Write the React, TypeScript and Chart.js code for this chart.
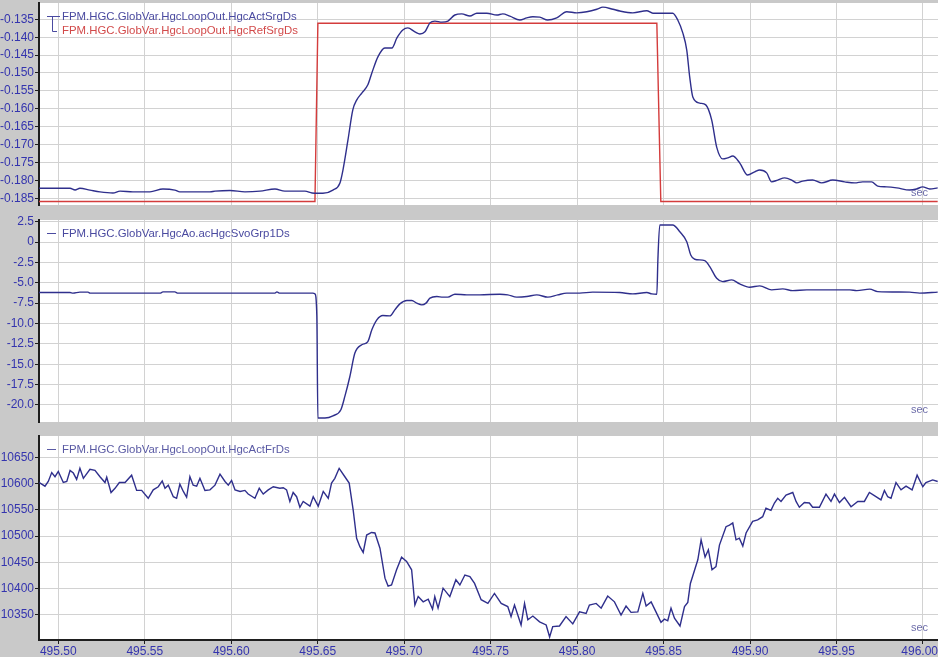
import React, { useEffect, useRef } from "react";
import { Chart, registerables } from "chart.js";

Chart.register(...registerables);

// ---------- shared time axis ----------
const X_MIN = 495.48884;
const X_MAX = 496.00868;
const X_TICKS = [495.5, 495.55, 495.6, 495.65, 495.7, 495.75, 495.8, 495.85, 495.9, 495.95, 496.0];
const X_TICK_LABELS = ["495.50", "495.55", "495.60", "495.65", "495.70", "495.75", "495.80", "495.85", "495.90", "495.95", "496.00"];

// ---------- panel 1 : HgcActSrgDs / HgcRefSrgDs ----------
const P1_Y_MIN = -0.18687;
const P1_Y_MAX = -0.13045;
const P1_TICKS = [-0.185, -0.18, -0.175, -0.17, -0.165, -0.16, -0.155, -0.15, -0.145, -0.14, -0.135];
const P1_TICK_LABELS = ["-0.185", "-0.180", "-0.175", "-0.170", "-0.165", "-0.160", "-0.155", "-0.150", "-0.145", "-0.140", "-0.135"];

const ACT_SRG_T = [
  495.4888, 495.5068, 495.5097, 495.5125, 495.5183, 495.5241, 495.5316, 495.5357, 495.5432, 495.553,
  495.5605, 495.5674, 495.5703, 495.5877, 495.5906, 495.5993, 495.6079, 495.6166, 495.6253, 495.631,
  495.6397, 495.6426, 495.6467, 495.6501, 495.653, 495.6588, 495.6628, 495.6646, 495.6675, 495.6703,
  495.6726, 495.6755, 495.679, 495.6813, 495.6848, 495.6888, 495.6929, 495.6958, 495.6992, 495.7021,
  495.7062, 495.7091, 495.712, 495.7149, 495.7178, 495.7218, 495.7253, 495.7293, 495.7333, 495.738,
  495.742, 495.7478, 495.7536, 495.757, 495.7611, 495.7669, 495.7709, 495.7744, 495.7784, 495.783,
  495.7882, 495.794, 495.7998, 495.8056, 495.8114, 495.8149, 495.8207, 495.8247, 495.8322, 495.8403,
  495.8438, 495.8553, 495.8582, 495.8611, 495.8634, 495.8651, 495.8669, 495.8709, 495.8744, 495.8778,
  495.8807, 495.8842, 495.8871, 495.89, 495.894, 495.8986, 495.9027, 495.9056, 495.9096, 495.9125,
  495.916, 495.92, 495.9241, 495.927, 495.9304, 495.9362, 495.9414, 495.9478, 495.9547, 495.9605,
  495.9651, 495.9703, 495.9738, 495.979, 495.9848, 495.9923, 495.9963, 495.9998, 496.0039, 496.0085,
];
const ACT_SRG_V = [
  -0.1822, -0.1822, -0.1827, -0.1822, -0.1827, -0.1832, -0.1835, -0.183, -0.1832, -0.1832,
  -0.1824, -0.1827, -0.1832, -0.1832, -0.183, -0.1828, -0.1832, -0.183, -0.1824, -0.183,
  -0.183, -0.183, -0.1835, -0.1836, -0.1836, -0.1827, -0.1808, -0.1771, -0.1687, -0.1603,
  -0.1575, -0.1556, -0.1533, -0.15, -0.1455, -0.143, -0.143, -0.1402, -0.138, -0.1374,
  -0.1385, -0.1391, -0.1385, -0.136, -0.1355, -0.1358, -0.1355, -0.1338, -0.1335, -0.1341,
  -0.1333, -0.1333, -0.1338, -0.1335, -0.1341, -0.1352, -0.1346, -0.1343, -0.1344, -0.1352,
  -0.1346, -0.1329, -0.1332, -0.1329, -0.1322, -0.1316, -0.1322, -0.1327, -0.1332, -0.1326,
  -0.1333, -0.1333, -0.1352, -0.1388, -0.1436, -0.1511, -0.1567, -0.1584, -0.1589, -0.1631,
  -0.1707, -0.174, -0.1737, -0.1732, -0.1751, -0.1785, -0.1776, -0.1771, -0.1779, -0.1804,
  -0.1799, -0.1793, -0.1799, -0.1807, -0.1802, -0.1799, -0.1807, -0.1799, -0.1804, -0.1807,
  -0.1804, -0.1804, -0.1816, -0.1818, -0.1821, -0.1827, -0.1824, -0.1818, -0.1824, -0.1821,
];

const REF_SRG_T = [495.4888, 495.6484, 495.6501, 495.8461, 495.8484, 496.0085];
const REF_SRG_V = [-0.1859, -0.1859, -0.1361, -0.1361, -0.1859, -0.1859];

// ---------- panel 2 : acHgcSvoGrp1Ds ----------
const P2_Y_MIN = -22.09;
const P2_Y_MAX = 2.71;
const P2_TICKS = [-20, -17.5, -15, -12.5, -10, -7.5, -5, -2.5, 0, 2.5];
const P2_TICK_LABELS = ["-20.0", "-17.5", "-15.0", "-12.5", "-10.0", "-7.5", "-5.0", "-2.5", "0", "2.5"];

const SVO_T = [
  495.4888, 495.5068, 495.5085, 495.5125, 495.5172, 495.5183, 495.5588, 495.5605, 495.5674, 495.5692,
  495.6253, 495.6264, 495.6281, 495.6472, 495.6484, 495.6495, 495.6501, 495.6542, 495.6588, 495.6634,
  495.6657, 495.6686, 495.6715, 495.6755, 495.679, 495.6813, 495.6842, 495.6877, 495.6917, 495.6946,
  495.6975, 495.7016, 495.7044, 495.7073, 495.7102, 495.7126, 495.7149, 495.7189, 495.7224, 495.7253,
  495.7293, 495.7362, 495.7437, 495.7553, 495.7599, 495.7651, 495.7709, 495.7767, 495.783, 495.7888,
  495.794, 495.8015, 495.809, 495.8247, 495.8322, 495.8403, 495.8432, 495.8461, 495.8467, 495.8478,
  495.8553, 495.8594, 495.8634, 495.8657, 495.868, 495.8738, 495.8767, 495.8807, 495.8842, 495.8894,
  495.894, 495.8998, 495.9056, 495.9125, 495.9189, 495.9247, 495.9328, 495.9577, 495.9617, 495.9692,
  495.9738, 495.9923, 495.9981, 496.0085,
];
const SVO_V = [
  -6.2, -6.2, -6.27, -6.15, -6.15, -6.27, -6.27, -6.12, -6.12, -6.27,
  -6.27, -6.12, -6.27, -6.27, -6.36, -9.14, -21.59, -21.59, -21.33, -20.58,
  -18.95, -16.5, -13.63, -12.61, -12.21, -10.77, -9.55, -9.02, -9.06, -8.32,
  -7.59, -7.18, -7.18, -7.5, -7.71, -7.5, -6.89, -6.69, -6.76, -6.76,
  -6.4, -6.48, -6.48, -6.4, -6.48, -6.76, -6.69, -6.48, -6.76, -6.48,
  -6.27, -6.27, -6.15, -6.2, -6.36, -6.2, -6.36, -6.4, -2.19, 2.1,
  2.1, 1.27, 0.05, -1.58, -2.11, -2.28, -3.01, -4.44, -4.85, -4.64,
  -5.13, -5.54, -5.38, -5.87, -5.75, -5.96, -5.87, -5.87, -5.96, -5.78,
  -6.08, -6.15, -6.27, -6.15,
];

// ---------- panel 3 : HgcActFrDs ----------
const P3_Y_MIN = 10302.4;
const P3_Y_MAX = 10690.5;
const P3_TICKS = [10350, 10400, 10450, 10500, 10550, 10600, 10650];
const P3_TICK_LABELS = ["10350", "10400", "10450", "10500", "10550", "10600", "10650"];

const FR_T = [
  495.489, 495.4923, 495.4942, 495.4962, 495.4981, 495.5, 495.5029, 495.5049, 495.5068, 495.5087,
  495.5106, 495.5125, 495.5145, 495.5183, 495.5212, 495.5241, 495.527, 495.528, 495.5305, 495.5328,
  495.5353, 495.5386, 495.5424, 495.5453, 495.5482, 495.552, 495.5549, 495.5578, 495.5601, 495.5617,
  495.5636, 495.5665, 495.5684, 495.5703, 495.5723, 495.5742, 495.5761, 495.578, 495.58, 495.5819,
  495.5848, 495.5877, 495.5906, 495.5935, 495.5964, 495.5983, 495.6002, 495.6022, 495.6051, 495.6079,
  495.6098, 495.6137, 495.6162, 495.6185, 495.6214, 495.6243, 495.6281, 495.6301, 495.632, 495.6339,
  495.6358, 495.6378, 495.6397, 495.6416, 495.6455, 495.6474, 495.6503, 495.6532, 495.6561, 495.658,
  495.6599, 495.6624, 495.6657, 495.6682, 495.6705, 495.6725, 495.6744, 495.6763, 495.6783, 495.6811,
  495.6831, 495.686, 495.6889, 495.6907, 495.6927, 495.6956, 495.6985, 495.7014, 495.7043, 495.7062,
  495.7081, 495.711, 495.7139, 495.7164, 495.7177, 495.7196, 495.7225, 495.7264, 495.7299, 495.7322,
  495.7351, 495.738, 495.7407, 495.7445, 495.7484, 495.7522, 495.7561, 495.7599, 495.7618, 495.7638,
  495.7676, 495.7696, 495.7715, 495.7744, 495.7783, 495.7821, 495.7841, 495.7859, 495.7898, 495.7936,
  495.7975, 495.8014, 495.8052, 495.8071, 495.811, 495.8139, 495.8177, 495.8216, 495.8254, 495.8283,
  495.8312, 495.8351, 495.838, 495.8399, 495.8428, 495.8456, 495.8485, 495.8505, 495.8524, 495.8543,
  495.8563, 495.8595, 495.8621, 495.864, 495.8655, 495.8698, 495.8717, 495.874, 495.8759, 495.878,
  495.8803, 495.8823, 495.8861, 495.8881, 495.89, 495.8919, 495.8938, 495.8958, 495.8977, 495.9015,
  495.9044, 495.9073, 495.9092, 495.9121, 495.9141, 495.916, 495.9179, 495.9208, 495.9247, 495.9266,
  495.9285, 495.9314, 495.9343, 495.9362, 495.9401, 495.9439, 495.9468, 495.9488, 495.9517, 495.9546,
  495.9584, 495.9623, 495.9661, 495.969, 495.9728, 495.9757, 495.9777, 495.9796, 495.9815, 495.9844,
  495.9873, 495.9902, 495.9937, 495.9966, 495.9999, 496.0017, 496.0056, 496.0085,
];
const FR_V = [
  10602, 10595, 10604, 10621, 10613, 10623, 10602, 10604, 10625, 10620,
  10608, 10629, 10610, 10627, 10625, 10613, 10602, 10612, 10583, 10591,
  10602, 10602, 10616, 10587, 10587, 10572, 10588, 10594, 10605, 10591,
  10597, 10575, 10572, 10599, 10585, 10574, 10613, 10597, 10595, 10610,
  10587, 10588, 10597, 10618, 10604, 10597, 10606, 10588, 10585, 10587,
  10580, 10572, 10591, 10580, 10588, 10594, 10591, 10592, 10588, 10566,
  10583, 10575, 10555, 10566, 10557, 10575, 10557, 10585, 10572, 10601,
  10610, 10629, 10613, 10601, 10550, 10496, 10480, 10469, 10502, 10507,
  10506, 10477, 10420, 10405, 10407, 10436, 10460, 10452, 10436, 10369,
  10385, 10375, 10380, 10361, 10385, 10363, 10401, 10385, 10417, 10407,
  10426, 10423, 10410, 10379, 10372, 10391, 10372, 10366, 10347, 10369,
  10331, 10372, 10341, 10348, 10337, 10331, 10308, 10328, 10329, 10347,
  10333, 10356, 10353, 10369, 10372, 10363, 10386, 10375, 10350, 10367,
  10355, 10356, 10391, 10367, 10375, 10356, 10336, 10342, 10339, 10363,
  10344, 10329, 10366, 10374, 10410, 10455, 10493, 10460, 10474, 10436,
  10442, 10483, 10518, 10521, 10525, 10493, 10496, 10481, 10506, 10528,
  10531, 10537, 10553, 10549, 10563, 10572, 10566, 10578, 10583, 10566,
  10555, 10564, 10563, 10555, 10555, 10580, 10566, 10580, 10564, 10574,
  10556, 10566, 10566, 10583, 10575, 10569, 10587, 10575, 10572, 10602,
  10588, 10595, 10588, 10616, 10594, 10602, 10607, 10604,
];

// ---------- legends ----------
const ACT_SRG_NAME = "FPM.HGC.GlobVar.HgcLoopOut.HgcActSrgDs";
const REF_SRG_NAME = "FPM.HGC.GlobVar.HgcLoopOut.HgcRefSrgDs";
const SVO_NAME = "FPM.HGC.GlobVar.HgcAo.acHgcSvoGrp1Ds";
const FR_NAME = "FPM.HGC.GlobVar.HgcLoopOut.HgcActFrDs";
const UNIT_LABEL = "sec";

// ---------- styling ----------
const BG_GRAY = "#c9c9c9";
const GRID = "#d2d2d2";
const AXIS = "#1e1e1e";
const TICK_TEXT = "#3434ae";
const BLUE = "#2f2f8c";
const RED = "#d43c3c";
const LEGEND_BLUE = "#4a4aa0";
const LEGEND_RED = "#d24a4a";
const FONT_FAMILY = '"Liberation Sans", Arial, sans-serif';

type LegendItem = { text: string; color: string };

type PanelProps = {
  top: number;
  height: number;
  padTop: number;
  padBottom: number;
  showX: boolean;
  yMin: number;
  yMax: number;
  yTicks: number[];
  yLabels: string[];
  datasets: any[];
  legend: LegendItem[];
  bracket: boolean;
};

function toPoints(t: number[], v: number[]) {
  return t.map((x, i) => ({ x, y: v[i] }));
}

function Panel(props: PanelProps) {
  const ref = useRef<HTMLCanvasElement | null>(null);
  useEffect(() => {
    const canvas = ref.current;
    if (!canvas) return;
    const overlay = {
      id: "panelOverlay",
      beforeDraw(chart: any) {
        const { ctx, chartArea: a } = chart;
        ctx.save();
        ctx.fillStyle = "#ffffff";
        ctx.fillRect(a.left, a.top, a.right - a.left, a.bottom - a.top);
        ctx.restore();
      },
      afterDatasetsDraw(chart: any) {
        const { ctx, chartArea: a } = chart;
        ctx.save();
        ctx.font = `11.4px ${FONT_FAMILY}`;
        ctx.textBaseline = "middle";
        ctx.textAlign = "left";
        ctx.lineWidth = 1;
        if (props.bracket) {
          ctx.strokeStyle = LEGEND_BLUE;
          ctx.beginPath();
          ctx.moveTo(a.left + 8, a.top + 13.5);
          ctx.lineTo(a.left + 21, a.top + 13.5);
          ctx.moveTo(a.left + 13.5, a.top + 13.5);
          ctx.lineTo(a.left + 13.5, a.top + 28.5);
          ctx.lineTo(a.left + 18, a.top + 28.5);
          ctx.stroke();
          props.legend.forEach((item, i) => {
            ctx.fillStyle = item.color;
            ctx.fillText(item.text, a.left + 23, a.top + 14 + i * 14.3);
          });
        } else {
          props.legend.forEach((item, i) => {
            ctx.strokeStyle = item.color;
            ctx.beginPath();
            ctx.moveTo(a.left + 8, a.top + 13.5 + i * 14);
            ctx.lineTo(a.left + 17, a.top + 13.5 + i * 14);
            ctx.stroke();
            ctx.fillStyle = item.color;
            ctx.fillText(item.text, a.left + 23, a.top + 14 + i * 14);
          });
        }
        ctx.font = `11px ${FONT_FAMILY}`;
        ctx.fillStyle = "#6e6eaa";
        ctx.textAlign = "right";
        ctx.fillText(UNIT_LABEL, a.right - 10, a.bottom - 12);
        ctx.restore();
      },
    };

    const lastX = X_TICK_LABELS.length - 1;
    const chart = new Chart(canvas, {
      type: "line",
      data: { datasets: props.datasets },
      plugins: [overlay],
      options: {
        animation: false,
        responsive: false,
        maintainAspectRatio: false,
        devicePixelRatio: 1,
        events: [],
        layout: { padding: { top: props.padTop, bottom: props.padBottom, left: 0, right: 0 } },
        plugins: { legend: { display: false }, tooltip: { enabled: false } },
        elements: { point: { radius: 0 } },
        scales: {
          x: {
            type: "linear",
            min: X_MIN,
            max: X_MAX,
            afterBuildTicks: (scale: any) => {
              scale.ticks = X_TICKS.map((value) => ({ value }));
            },
            afterFit: (scale: any) => {
              scale.height = props.showX ? 17 : 0;
              scale.paddingLeft = 0;
              scale.paddingRight = 0;
            },
            ticks: {
              display: props.showX,
              autoSkip: false,
              maxRotation: 0,
              padding: 0,
              color: TICK_TEXT,
              font: { family: FONT_FAMILY, size: 12 },
              // the last label is kept inside the window, as in the original
              callback: (_v: any, i: number) => (i === lastX ? X_TICK_LABELS[i] + "  " : X_TICK_LABELS[i]),
            },
            grid: {
              color: GRID,
              lineWidth: 1,
              drawTicks: props.showX,
              tickLength: 4,
              tickColor: AXIS,
            },
            border: { display: props.showX, color: AXIS, width: 2 },
          },
          y: {
            type: "linear",
            min: props.yMin,
            max: props.yMax,
            afterBuildTicks: (scale: any) => {
              scale.ticks = props.yTicks.map((value) => ({ value }));
            },
            afterFit: (scale: any) => {
              scale.width = 39;
              scale.paddingTop = 0;
              scale.paddingBottom = 0;
            },
            ticks: {
              autoSkip: false,
              padding: 1,
              color: TICK_TEXT,
              font: { family: FONT_FAMILY, size: 12 },
              callback: (_v: any, i: number) => props.yLabels[i],
            },
            grid: { color: GRID, lineWidth: 1, tickLength: 4, tickColor: AXIS },
            border: { display: true, color: AXIS, width: 2 },
          },
        },
      } as any,
    });
    return () => chart.destroy();
  }, []);

  return (
    <canvas
      ref={ref}
      width={938}
      height={props.height}
      style={{ position: "absolute", left: 0, top: props.top, width: 938, height: props.height, display: "block" }}
    />
  );
}

const lineStyle = { pointRadius: 0, borderWidth: 1.4, fill: false };

export default function App() {
  const p1 = [
    { ...lineStyle, label: ACT_SRG_NAME, data: toPoints(ACT_SRG_T, ACT_SRG_V), borderColor: BLUE, cubicInterpolationMode: "monotone" },
    { ...lineStyle, label: REF_SRG_NAME, data: toPoints(REF_SRG_T, REF_SRG_V), borderColor: RED, tension: 0 },
  ];
  const p2 = [
    { ...lineStyle, label: SVO_NAME, data: toPoints(SVO_T, SVO_V), borderColor: BLUE, cubicInterpolationMode: "monotone" },
  ];
  const p3 = [
    { ...lineStyle, label: FR_NAME, data: toPoints(FR_T, FR_V), borderColor: BLUE, tension: 0 },
  ];
  return (
    <div style={{ position: "absolute", left: 0, top: 0, width: 938, height: 657, background: BG_GRAY, overflow: "hidden" }}>
      <Panel
        top={0}
        height={212}
        padTop={3}
        padBottom={7}
        showX={false}
        yMin={P1_Y_MIN}
        yMax={P1_Y_MAX}
        yTicks={P1_TICKS}
        yLabels={P1_TICK_LABELS}
        datasets={p1}
        legend={[
          { text: ACT_SRG_NAME, color: LEGEND_BLUE },
          { text: REF_SRG_NAME, color: LEGEND_RED },
        ]}
        bracket={true}
      />
      <Panel
        top={212}
        height={216}
        padTop={8}
        padBottom={6}
        showX={false}
        yMin={P2_Y_MIN}
        yMax={P2_Y_MAX}
        yTicks={P2_TICKS}
        yLabels={P2_TICK_LABELS}
        datasets={p2}
        legend={[{ text: SVO_NAME, color: LEGEND_BLUE }]}
        bracket={false}
      />
      <Panel
        top={428}
        height={229}
        padTop={8}
        padBottom={0}
        showX={true}
        yMin={P3_Y_MIN}
        yMax={P3_Y_MAX}
        yTicks={P3_TICKS}
        yLabels={P3_TICK_LABELS}
        datasets={p3}
        legend={[{ text: FR_NAME, color: "#5a5aa4" }]}
        bracket={false}
      />
    </div>
  );
}
